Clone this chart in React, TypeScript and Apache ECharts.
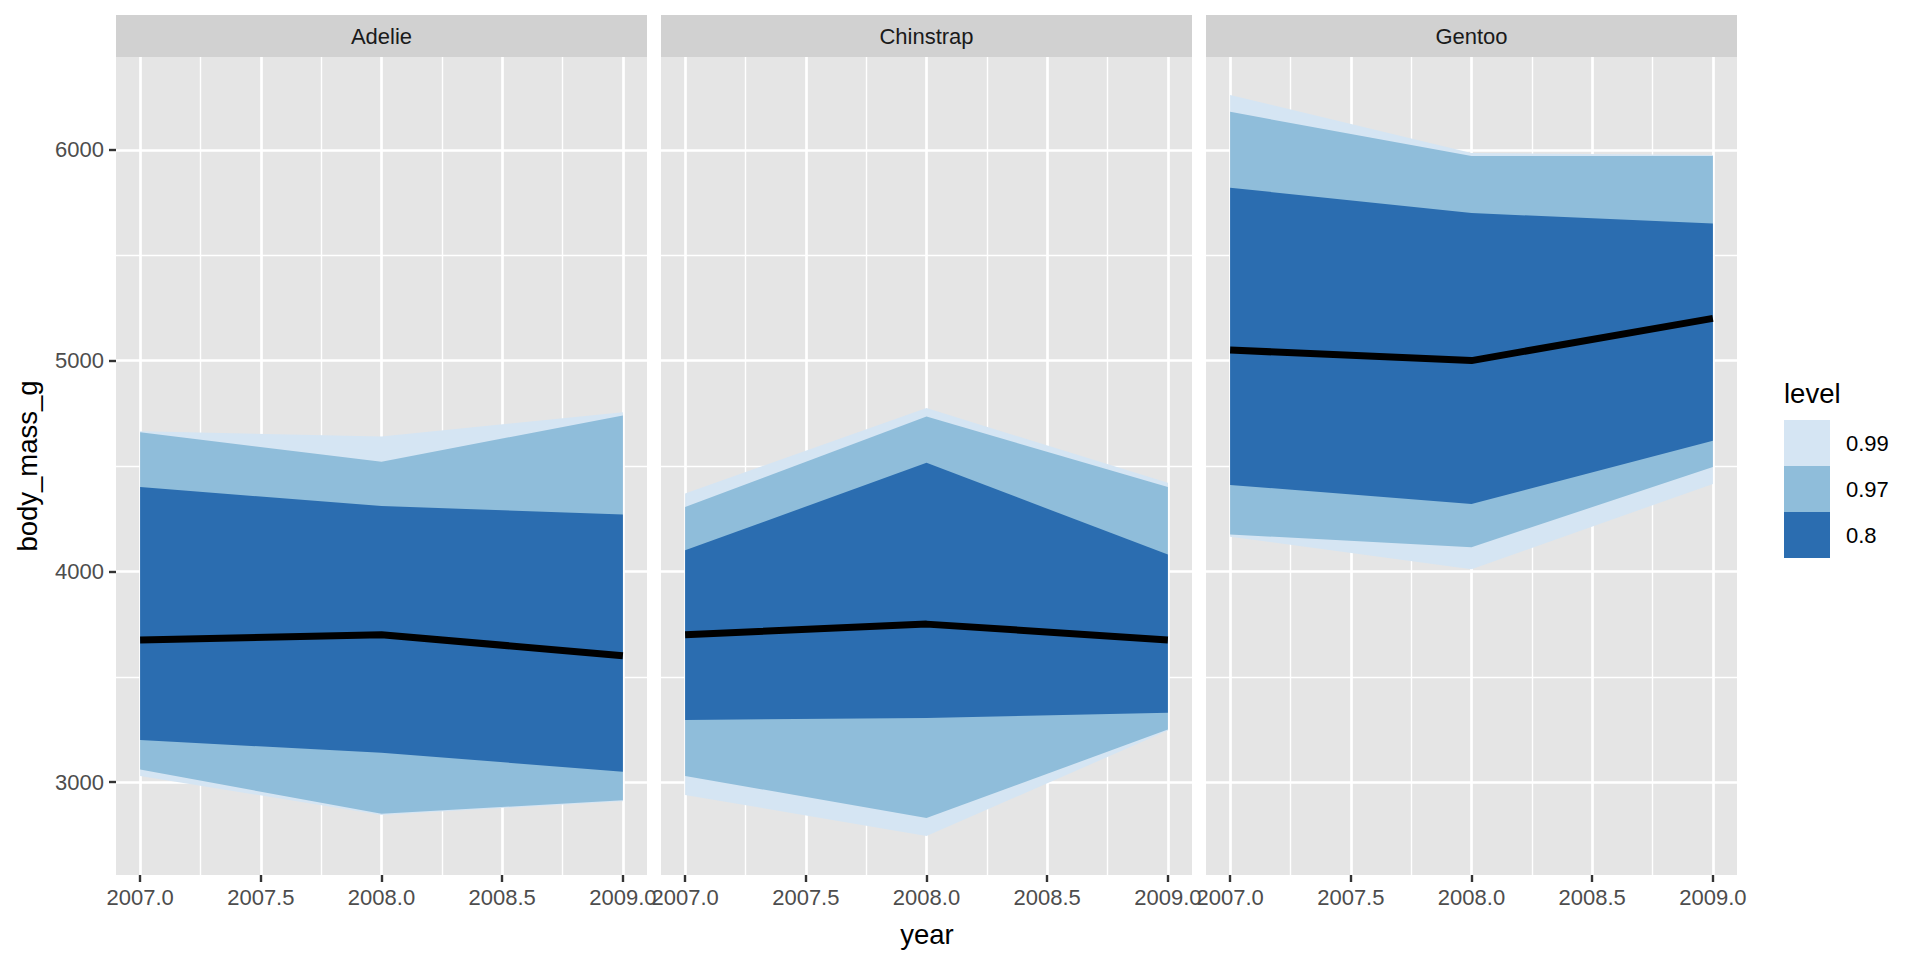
import React, { useEffect, useRef } from "react";
import * as echarts from "echarts";

const species = ["Adelie", "Chinstrap", "Gentoo"];
const years = [2007, 2008, 2009];
const levels = ["0.99", "0.97", "0.8"];
const levelColors = ["#D5E5F3", "#8FBDDA", "#2B6DB0"];

const adelieMedian = [3675, 3700, 3600];
const adelieLo80 = [3200, 3140, 3050];
const adelieHi80 = [4400, 4310, 4270];
const adelieLo97 = [3060, 2850, 2915];
const adelieHi97 = [4660, 4520, 4740];
const adelieLo99 = [3030, 2845, 2910];
const adelieHi99 = [4665, 4640, 4755];

const chinstrapMedian = [3700, 3750, 3675];
const chinstrapLo80 = [3295, 3305, 3330];
const chinstrapHi80 = [4100, 4515, 4080];
const chinstrapLo97 = [3030, 2830, 3250];
const chinstrapHi97 = [4305, 4735, 4400];
const chinstrapLo99 = [2940, 2745, 3245];
const chinstrapHi99 = [4370, 4775, 4420];

const gentooMedian = [5050, 5000, 5200];
const gentooLo80 = [4410, 4320, 4620];
const gentooHi80 = [5820, 5700, 5650];
const gentooLo97 = [4175, 4115, 4495];
const gentooHi97 = [6180, 5970, 5970];
const gentooLo99 = [4165, 4010, 4415];
const gentooHi99 = [6260, 5985, 5975];

const xTicks = [2007, 2007.5, 2008, 2008.5, 2009];
const xMinor = [2007.25, 2007.75, 2008.25, 2008.75];
const yTicks = [3000, 4000, 5000, 6000];
const yMinor = [3500, 4500, 5500];

const speciesData = [
  { median: adelieMedian, bands: [[adelieLo99, adelieHi99], [adelieLo97, adelieHi97], [adelieLo80, adelieHi80]] },
  { median: chinstrapMedian, bands: [[chinstrapLo99, chinstrapHi99], [chinstrapLo97, chinstrapHi97], [chinstrapLo80, chinstrapHi80]] },
  { median: gentooMedian, bands: [[gentooLo99, gentooHi99], [gentooLo97, gentooHi97], [gentooLo80, gentooHi80]] },
];

const FONT = "Liberation Sans, Arial, Helvetica, sans-serif";
const panelLefts = [116, 661, 1206];
const panelWidth = 531;
const plotTop = 57;
const plotHeight = 818;
const stripTop = 15;
const stripHeight = 42;
const X_MIN = 2006.9;
const X_MAX = 2009.1;
const Y_MIN = 2560;
const Y_MAX = 6440;

function buildOption() {
  const grid: any[] = [];
  const xAxis: any[] = [];
  const yAxis: any[] = [];
  const series: any[] = [];
  const graphic: any[] = [];

  panelLefts.forEach((left, i) => {
    grid.push({
      left,
      top: plotTop,
      width: panelWidth,
      height: plotHeight,
      show: true,
      backgroundColor: "#E5E5E5",
      borderWidth: 0,
      containLabel: false,
    });
    xAxis.push({
      type: "value",
      gridIndex: i,
      min: X_MIN,
      max: X_MAX,
      axisLine: { show: false },
      splitLine: { show: false },
      axisTick: {
        show: true,
        customValues: xTicks,
        length: 7,
        lineStyle: { color: "#333333", width: 2.4 },
      },
      axisLabel: {
        show: true,
        customValues: xTicks,
        formatter: (v: number) => v.toFixed(1),
        fontSize: 22,
        color: "#4D4D4D",
        fontFamily: FONT,
        margin: 11,
      },
    });
    yAxis.push({
      type: "value",
      gridIndex: i,
      min: Y_MIN,
      max: Y_MAX,
      axisLine: { show: false },
      splitLine: { show: false },
      axisTick: {
        show: i === 0,
        customValues: yTicks,
        length: 7,
        lineStyle: { color: "#333333", width: 2.4 },
      },
      axisLabel: {
        show: i === 0,
        customValues: yTicks,
        formatter: (v: number) => String(v),
        fontSize: 22,
        color: "#4D4D4D",
        fontFamily: FONT,
        margin: 12,
      },
    });

    // gridlines
    const lines: any[] = [];
    xTicks.forEach((v) => lines.push({ xAxis: v, lineStyle: { width: 2.7 } }));
    xMinor.forEach((v) => lines.push({ xAxis: v, lineStyle: { width: 1.4 } }));
    yTicks.forEach((v) => lines.push({ yAxis: v, lineStyle: { width: 2.7 } }));
    yMinor.forEach((v) => lines.push({ yAxis: v, lineStyle: { width: 1.4 } }));
    series.push({
      type: "line",
      name: "grid" + i,
      xAxisIndex: i,
      yAxisIndex: i,
      data: [],
      silent: true,
      z: 1,
      markLine: {
        silent: true,
        z: 1,
        symbol: ["none", "none"],
        label: { show: false },
        emphasis: { disabled: true },
        animation: false,
        lineStyle: { color: "#FFFFFF", type: "solid", opacity: 1 },
        data: lines,
      },
    });

    const sd = speciesData[i];
    sd.bands.forEach((band, li) => {
      const [lo, hi] = band;
      const color = levelColors[li];
      series.push({
        type: "custom",
        name: levels[li],
        xAxisIndex: i,
        yAxisIndex: i,
        coordinateSystem: "cartesian2d",
        data: years.map((x, j) => [x, lo[j], hi[j]]),
        encode: { x: 0, y: [1, 2] },
        silent: true,
        z: 2,
        renderItem: (params: any, api: any) => {
          if (params.dataIndex !== 0) return null;
          const upper = years.map((x, j) => api.coord([x, hi[j]]));
          const lower = years.map((x, j) => api.coord([x, lo[j]])).reverse();
          return {
            type: "polygon",
            shape: { points: upper.concat(lower) },
            style: { fill: color, stroke: null },
            silent: true,
          };
        },
      });
    });
    series.push({
      type: "line",
      name: "median-" + i,
      xAxisIndex: i,
      yAxisIndex: i,
      data: years.map((x, j) => [x, sd.median[j]]),
      symbol: "none",
      lineStyle: { color: "#000000", width: 7 },
      silent: true,
      z: 3,
    });

    // strip
    graphic.push({
      type: "rect",
      shape: { x: left, y: stripTop, width: panelWidth, height: stripHeight },
      style: { fill: "#D1D1D1" },
      silent: true,
    });
    graphic.push({
      type: "text",
      x: left + panelWidth / 2,
      y: stripTop + stripHeight / 2,
      style: {
        text: species[i],
        fontSize: 22,
        fontFamily: FONT,
        fill: "#1A1A1A",
        textAlign: "center",
        textVerticalAlign: "middle",
      },
      silent: true,
    });
  });

  // axis titles
  graphic.push({
    type: "text",
    x: 927,
    y: 934,
    style: {
      text: "year",
      fontSize: 27.5,
      fontFamily: FONT,
      fill: "#000000",
      textAlign: "center",
      textVerticalAlign: "middle",
    },
    silent: true,
  });
  graphic.push({
    type: "text",
    x: 27,
    y: plotTop + plotHeight / 2,
    rotation: Math.PI / 2,
    style: {
      text: "body_mass_g",
      fontSize: 27.5,
      fontFamily: FONT,
      fill: "#000000",
      textAlign: "center",
      textVerticalAlign: "middle",
    },
    silent: true,
  });

  // legend
  graphic.push({
    type: "text",
    x: 1784,
    y: 393,
    style: {
      text: "level",
      fontSize: 27.5,
      fontFamily: FONT,
      fill: "#000000",
      textAlign: "left",
      textVerticalAlign: "middle",
    },
    silent: true,
  });
  levels.forEach((lv, li) => {
    const top = 420 + li * 46;
    graphic.push({
      type: "rect",
      shape: { x: 1784, y: top, width: 46, height: 46 },
      style: { fill: levelColors[li] },
      silent: true,
    });
    graphic.push({
      type: "text",
      x: 1846,
      y: top + 23,
      style: {
        text: lv,
        fontSize: 22,
        fontFamily: FONT,
        fill: "#000000",
        textAlign: "left",
        textVerticalAlign: "middle",
      },
      silent: true,
    });
  });

  return {
    animation: false,
    backgroundColor: "#FFFFFF",
    textStyle: { fontFamily: FONT },
    grid,
    xAxis,
    yAxis,
    series,
    graphic,
  };
}

export default function App() {
  const ref = useRef<HTMLDivElement>(null);
  useEffect(() => {
    document.body.style.margin = "0";
    const chart = echarts.init(ref.current as HTMLDivElement, null, { renderer: "svg" });
    chart.setOption(buildOption() as any);
    return () => {
      chart.dispose();
    };
  }, []);
  return <div ref={ref} style={{ width: 1920, height: 960 }} />;
}
